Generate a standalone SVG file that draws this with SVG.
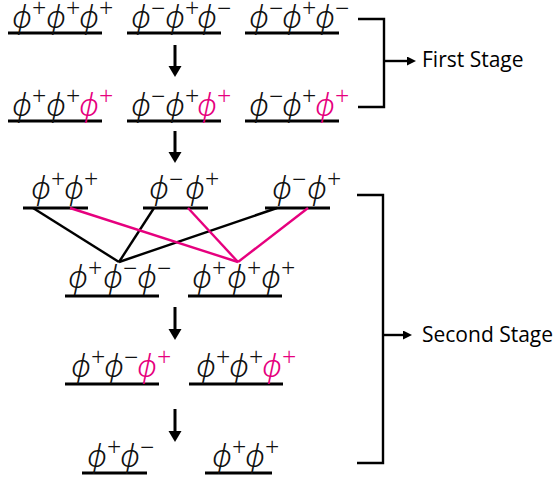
<svg xmlns="http://www.w3.org/2000/svg" width="558" height="481" viewBox="0 0 558 481">
<defs>
<style>
.p{font-family:"Noto Sans","DejaVu Sans",sans-serif;font-weight:300;font-style:italic;font-size:31px;fill:#111}
.s{font-family:"Noto Sans","DejaVu Sans",sans-serif;font-weight:300;font-style:normal;font-size:25px}
.m{fill:#e6007e}
.u{stroke:#000;stroke-width:3;fill:none}
.k{stroke:#000;stroke-width:2.4;fill:none}
.pk{stroke:#e6007e;stroke-width:2.4;fill:none}
.a{stroke:#000;stroke-width:3;fill:none}
.lbl{font-family:"Open Sans","Noto Sans",sans-serif;font-size:21px;fill:#000}
</style>
<marker id="big" markerUnits="userSpaceOnUse" markerWidth="14" markerHeight="14" refX="3" refY="6.5" orient="auto"><path d="M0,0 L11,6.5 L0,13 z" fill="#000"/></marker>
<marker id="sm" markerUnits="userSpaceOnUse" markerWidth="12" markerHeight="12" refX="3" refY="4.5" orient="auto"><path d="M0,0 L9,4.5 L0,9 z" fill="#000"/></marker>
</defs>

<g id="n1"><line class="u" x1="8" y1="33" x2="102" y2="33"/>
<text class="p" y="28"><tspan x="12">ϕ</tspan><tspan class="s" dy="-11">+</tspan><tspan x="46" dy="11">ϕ</tspan><tspan class="s" dy="-11">+</tspan><tspan x="79" dy="11">ϕ</tspan><tspan class="s" dy="-11">+</tspan></text></g>
<g id="n2"><line class="u" x1="127" y1="33" x2="221" y2="33"/>
<text class="p" y="28"><tspan x="131">ϕ</tspan><tspan class="s" dy="-11">−</tspan><tspan x="165" dy="11">ϕ</tspan><tspan class="s" dy="-11">+</tspan><tspan x="197" dy="11">ϕ</tspan><tspan class="s" dy="-11">−</tspan></text></g>
<g id="n3"><line class="u" x1="245" y1="33" x2="339" y2="33"/>
<text class="p" y="28"><tspan x="249">ϕ</tspan><tspan class="s" dy="-11">−</tspan><tspan x="282" dy="11">ϕ</tspan><tspan class="s" dy="-11">+</tspan><tspan x="315" dy="11">ϕ</tspan><tspan class="s" dy="-11">−</tspan></text></g>

<g id="n4"><line class="u" x1="8" y1="121" x2="102" y2="121"/>
<text class="p" y="116"><tspan x="12">ϕ</tspan><tspan class="s" dy="-11">+</tspan><tspan x="46" dy="11">ϕ</tspan><tspan class="s" dy="-11">+</tspan><tspan class="m" x="79" dy="11">ϕ</tspan><tspan class="s m" dy="-11">+</tspan></text></g>
<g id="n5"><line class="u" x1="127" y1="121" x2="221" y2="121"/>
<text class="p" y="116"><tspan x="131">ϕ</tspan><tspan class="s" dy="-11">−</tspan><tspan x="165" dy="11">ϕ</tspan><tspan class="s" dy="-11">+</tspan><tspan class="m" x="197" dy="11">ϕ</tspan><tspan class="s m" dy="-11">+</tspan></text></g>
<g id="n6"><line class="u" x1="245" y1="121" x2="339" y2="121"/>
<text class="p" y="116"><tspan x="249">ϕ</tspan><tspan class="s" dy="-11">−</tspan><tspan x="282" dy="11">ϕ</tspan><tspan class="s" dy="-11">+</tspan><tspan class="m" x="315" dy="11">ϕ</tspan><tspan class="s m" dy="-11">+</tspan></text></g>

<g id="n7"><line class="u" x1="23" y1="208" x2="88" y2="208"/>
<text class="p" y="199"><tspan x="31">ϕ</tspan><tspan class="s" dy="-11">+</tspan><tspan x="64" dy="11">ϕ</tspan><tspan class="s" dy="-11">+</tspan></text></g>
<g id="n8"><line class="u" x1="143" y1="208" x2="208" y2="208"/>
<text class="p" y="199"><tspan x="149">ϕ</tspan><tspan class="s" dy="-11">−</tspan><tspan x="185" dy="11">ϕ</tspan><tspan class="s" dy="-11">+</tspan></text></g>
<g id="n9"><line class="u" x1="265" y1="208" x2="330" y2="208"/>
<text class="p" y="199"><tspan x="272">ϕ</tspan><tspan class="s" dy="-11">−</tspan><tspan x="307" dy="11">ϕ</tspan><tspan class="s" dy="-11">+</tspan></text></g>

<g id="n10"><line class="u" x1="65" y1="296" x2="159" y2="296"/>
<text class="p" y="288"><tspan x="68">ϕ</tspan><tspan class="s" dy="-11">+</tspan><tspan x="103" dy="11">ϕ</tspan><tspan class="s" dy="-11">−</tspan><tspan x="137" dy="11">ϕ</tspan><tspan class="s" dy="-11">−</tspan></text></g>
<g id="n11"><line class="u" x1="188" y1="296" x2="282" y2="296"/>
<text class="p" y="288"><tspan x="192">ϕ</tspan><tspan class="s" dy="-11">+</tspan><tspan x="227" dy="11">ϕ</tspan><tspan class="s" dy="-11">+</tspan><tspan x="261" dy="11">ϕ</tspan><tspan class="s" dy="-11">+</tspan></text></g>

<g id="n12"><line class="u" x1="65" y1="384" x2="159" y2="384"/>
<text class="p" y="377"><tspan x="71">ϕ</tspan><tspan class="s" dy="-11">+</tspan><tspan x="104" dy="11">ϕ</tspan><tspan class="s" dy="-11">−</tspan><tspan class="m" x="137" dy="11">ϕ</tspan><tspan class="s m" dy="-11">+</tspan></text></g>
<g id="n13"><line class="u" x1="189" y1="384" x2="283" y2="384"/>
<text class="p" y="377"><tspan x="196">ϕ</tspan><tspan class="s" dy="-11">+</tspan><tspan x="229" dy="11">ϕ</tspan><tspan class="s" dy="-11">+</tspan><tspan class="m" x="262" dy="11">ϕ</tspan><tspan class="s m" dy="-11">+</tspan></text></g>

<g id="n14"><line class="u" x1="82" y1="473" x2="147" y2="473"/>
<text class="p" y="467"><tspan x="87">ϕ</tspan><tspan class="s" dy="-11">+</tspan><tspan x="120" dy="11">ϕ</tspan><tspan class="s" dy="-11">−</tspan></text></g>
<g id="n15"><line class="u" x1="205" y1="473" x2="272" y2="473"/>
<text class="p" y="467"><tspan x="212">ϕ</tspan><tspan class="s" dy="-11">+</tspan><tspan x="245" dy="11">ϕ</tspan><tspan class="s" dy="-11">+</tspan></text></g>

<g id="stage1"><path class="k" d="M358,19 H384 V107 H358"/>
<text class="lbl" x="422" y="67">First Stage</text></g>
<g id="stage2"><path class="k" d="M357,195 H383 V463 H357"/>
<text class="lbl" x="422" y="342">Second Stage</text></g>

<g id="connectors">
<line class="a" x1="175" y1="45" x2="175" y2="69" marker-end="url(#big)"/>
<line class="a" x1="175" y1="131" x2="175" y2="155" marker-end="url(#big)"/>
<line class="a" x1="175" y1="307" x2="175" y2="332" marker-end="url(#big)"/>
<line class="a" x1="175" y1="409" x2="175" y2="434" marker-end="url(#big)"/>
<line class="k" x1="384" y1="61" x2="410" y2="61" marker-end="url(#sm)"/>
<line class="k" x1="383" y1="335" x2="406" y2="335" marker-end="url(#sm)"/>
<line class="k" x1="33" y1="208" x2="119" y2="262"/>
<line class="k" x1="154" y1="208" x2="119" y2="262"/>
<line class="k" x1="277" y1="208" x2="119" y2="262"/>
<line class="pk" x1="70" y1="208" x2="238" y2="262"/>
<line class="pk" x1="188" y1="208" x2="238" y2="262"/>
<line class="pk" x1="308" y1="208" x2="238" y2="262"/>
</g>
</svg>
